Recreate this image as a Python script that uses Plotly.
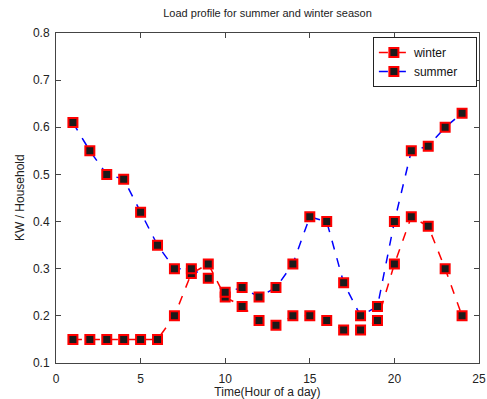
import plotly.graph_objects as go

hours = list(range(1, 25))
winter = [0.15, 0.15, 0.15, 0.15, 0.15, 0.15, 0.20, 0.29, 0.31, 0.24, 0.22, 0.19,
          0.18, 0.20, 0.20, 0.19, 0.17, 0.17, 0.19, 0.31, 0.41, 0.39, 0.30, 0.20]
summer = [0.61, 0.55, 0.50, 0.49, 0.42, 0.35, 0.30, 0.30, 0.28, 0.25, 0.26, 0.24,
          0.26, 0.31, 0.41, 0.40, 0.27, 0.20, 0.22, 0.40, 0.55, 0.56, 0.60, 0.63]
x_ticks = [0, 5, 10, 15, 20, 25]
y_ticks = [0.1, 0.2, 0.3, 0.4, 0.5, 0.6, 0.7, 0.8]

FONT = "Liberation Sans, Arial, sans-serif"
PAD = "\u00a0" * 4  # widens the legend box on the right
marker = dict(symbol="square", size=9, color="#1a1a1a", line=dict(color="#ff0000", width=2))

fig = go.Figure()
fig.add_trace(go.Scatter(x=hours, y=winter, name="winter" + PAD, mode="lines+markers",
                         line=dict(color="#ff0000", width=1.5, dash="dash"), marker=marker))
fig.add_trace(go.Scatter(x=hours, y=summer, name="summer" + PAD, mode="lines+markers",
                         line=dict(color="#0000ff", width=1.5, dash="dash"), marker=marker))

axis_common = dict(showline=True, linecolor="#444", linewidth=1, mirror="ticks",
                   ticks="inside", ticklen=5, tickcolor="#444", showgrid=False,
                   zeroline=False, automargin=False,
                   tickfont=dict(family=FONT, size=12, color="#222"))

fig.update_layout(
    width=487, height=399,
    margin=dict(l=56, r=8, t=33, b=36),
    paper_bgcolor="white", plot_bgcolor="white",
    title=dict(text="Load profile for summer and winter season", x=(56 + 479) / 2 / 487,
               xanchor="center", y=1 - 13 / 399, yanchor="middle",
               font=dict(family=FONT, size=11, color="#222")),
    xaxis=dict(range=[0, 25], tickvals=x_ticks, ticklabelstandoff=5,
               title=dict(text="Time(Hour of a day)",
                          font=dict(family=FONT, size=12, color="#222")),
               **axis_common),
    yaxis=dict(range=[0.1, 0.8], tickvals=y_ticks, tickformat=".1f", ticklabelstandoff=3,
               **axis_common),
    legend=dict(x=0.995, xanchor="right", y=0.988, yanchor="top",
                bgcolor="white", bordercolor="#222", borderwidth=1,
                font=dict(family=FONT, size=12, color="#111"),
                tracegroupgap=0, itemwidth=30),
    showlegend=True,
)

# y-axis title placed beside the tick labels
fig.add_annotation(text="KW / Household", textangle=-90, xref="paper", yref="paper",
                   x=0, xshift=-36, y=0.5, xanchor="center", yanchor="middle",
                   showarrow=False, font=dict(family=FONT, size=12, color="#222"))

fig.write_html("out.html")
